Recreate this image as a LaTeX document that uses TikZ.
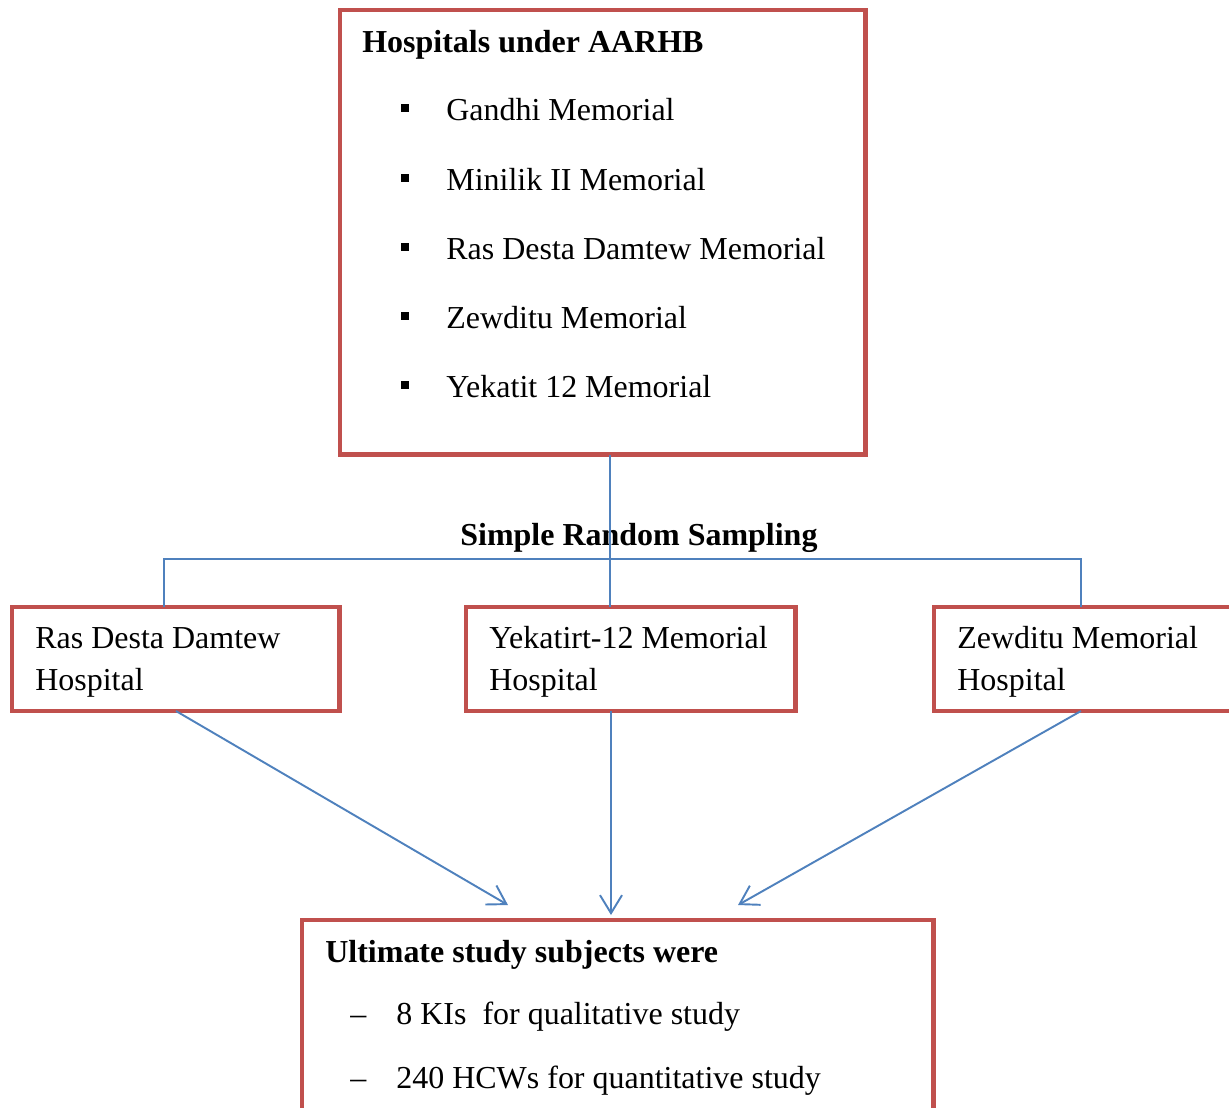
\documentclass[tikz,border=0pt]{standalone}
\usepackage{fontspec}
\setmainfont{Liberation Serif}
\usetikzlibrary{arrows.meta}
\definecolor{boxred}{HTML}{C0504D}
\definecolor{linkblue}{HTML}{4F81BD}
\tikzset{redbox/.style={draw=boxred, line width=2.8pt, rectangle, inner sep=0pt, outer sep=0pt, anchor=north west}}
\tikzset{link/.style={draw=linkblue, line width=1.1pt}}
\tikzset{arr/.style={link, -{Straight Barb[length=0.36cm, width=0.44cm, line width=1.1pt]}}}
\tikzset{txt/.style={anchor=base west, inner sep=0pt, font=\fontsize{18.2}{22}\selectfont}}
\tikzset{sqbullet/.style={fill=black, rectangle, inner sep=0pt, minimum size=0.17cm}}

\begin{document}
\begin{tikzpicture}[x=0.02cm, y=-0.02cm]
            \useasboundingbox (0,0) rectangle (1229,1107);
            \node[redbox, minimum width=10.52cm, minimum height=8.9cm] (top) at (340,10) {};
            \node[txt, font=\fontsize{18.2}{22}\selectfont\bfseries] (toptitle) at (362,52) {Hospitals under AARHB};
            \foreach \name/\yy [count=\i] in {Gandhi Memorial/120, Minilik II Memorial/190, Ras Desta Damtew Memorial/259, Zewditu Memorial/328, Yekatit 12 Memorial/397} {
                \node[sqbullet] (b\i) at (405,\yy-12) {};
                \node[txt] (h\i) at (446,\yy) {\name};
            }
            \node[txt, font=\fontsize{18.2}{22}\selectfont\bfseries] (srs) at (460,545) {Simple Random Sampling};
            \node[redbox, minimum width=6.56cm, minimum height=2.08cm] (rdd) at (12,607) {};
            \node[txt, align=left] (rddtxt) at (35,690) {Ras Desta Damtew\\[0.06cm]Hospital};
            \node[redbox, minimum width=6.6cm, minimum height=2.08cm] (ymem) at (466,607) {};
            \node[txt, align=left] (ymemtxt) at (489,690) {Yekatirt-12 Memorial\\[0.06cm]Hospital};
            \node[redbox, minimum width=6.6cm, minimum height=2.08cm] (zew) at (934,607) {};
            \node[txt, align=left] (zewtxt) at (957,690) {Zewditu Memorial\\[0.06cm]Hospital};
            \node[redbox, minimum width=12.64cm, minimum height=3.9cm] (sub) at (302,920) {};
            \node[txt, font=\fontsize{18.2}{22}\selectfont\bfseries] (subtitle) at (325,962) {Ultimate study subjects were};
            \node[txt] (d1) at (350,1024) {\textendash};
            \node[txt] (s1) at (396,1024) {8 KIs\ \ for qualitative study};
            \node[txt] (d2) at (350,1088) {\textendash};
            \node[txt] (s2) at (396,1088) {240 HCWs for quantitative study};
            \coordinate (split) at (610,559);
            \coordinate (lft) at (164,559);
            \coordinate (rgt) at (1081,559);
            \coordinate (e1) at (508,905);
            \coordinate (e2) at (611,915);
            \coordinate (e3) at (738,905);
            \draw[link] (top.south -| split) -- (split |- ymem.north);
            \draw[link] (lft |- rdd.north) -- (lft) -- (rgt) -- (rgt |- zew.north);
            \draw[arr] (rdd.south) -- (e1);
            \draw[arr] (ymem.south -| e2) -- (e2);
            \draw[arr] (zew.south -| rgt) -- (e3);
        \end{tikzpicture}
\end{document}
